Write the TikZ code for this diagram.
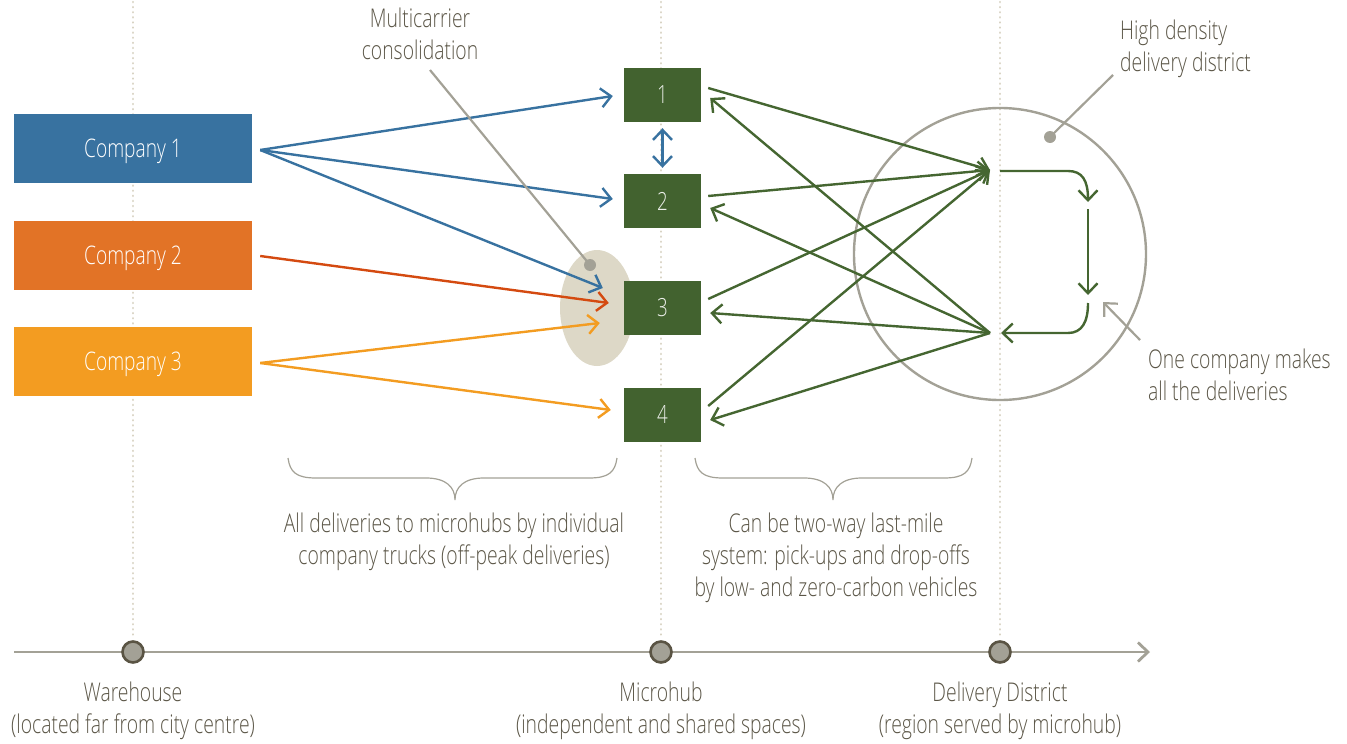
\documentclass[tikz,border=0pt]{standalone}
\usepackage{fontspec}
\setmainfont{Open Sans}[UprightFont={* Light},FakeStretch=0.75]
\usetikzlibrary{arrows.meta,calc}
\definecolor{cblue}{HTML}{3872A0}
\definecolor{corange}{HTML}{E27326}
\definecolor{cline2}{HTML}{D44A10}
\definecolor{cyellow}{HTML}{F39C21}
\definecolor{cgreen}{HTML}{42622F}
\definecolor{cgline}{HTML}{456631}
\definecolor{cgray}{HTML}{A3A196}
\definecolor{ctext}{HTML}{5B5647}
\definecolor{cdot}{HTML}{D8D3C3}
\definecolor{cell}{HTML}{DDD8C7}
\definecolor{cdotborder}{HTML}{5A5444}
\begin{document}
\begin{tikzpicture}[x=1pt,y=-1pt,
  barb/.style={-{Straight Barb[length=10pt,width=19pt]}},
  conn/.style={line width=2.4pt,barb},
  guide/.style={cdot,line width=2.5pt,dash pattern=on 0.1pt off 5pt,line cap=round},
  cbox/.style={minimum width=238pt,minimum height=69pt,inner sep=0pt,text depth=0pt,text=white,font=\fontsize{25.6}{32}\selectfont},
  hbox/.style={fill=cgreen,minimum width=77pt,minimum height=54pt,inner sep=0pt,text=white!90!cgreen,font=\fontsize{25}{30}\selectfont},
  lbl/.style={text=ctext,font=\fontsize{25.8}{32}\selectfont,inner sep=0pt},
  axisdot/.style={circle,fill=cgray,draw=cdotborder,line width=2.6pt,minimum size=21pt,inner sep=0pt},
  leader/.style={cgray,line width=2.2pt},
  brace/.style={cgray,line width=1.2pt}
]
\useasboundingbox (0,0) rectangle (1347,744);
% guides
\draw[guide] (133,2) -- (133,638);
\draw[guide] (661,2) -- (661,638);
\draw[guide] (1000,2) -- (1000,638);
% district circle and ellipse
\draw[cgray,line width=2.4pt] (1000,254) circle[radius=146];
\fill[cell] (597,308) ellipse[x radius=37, y radius=58];
% company boxes
\node[cbox,fill=cblue] (c1) at (133,148.5) {Company 1};
\node[cbox,fill=corange] (c2) at (133,255.5) {Company 2};
\node[cbox,fill=cyellow] (c3) at (133,361.5) {Company 3};
% microhubs
\node[hbox] (h1) at (662.5,95) {1};
\node[hbox] (h2) at (662.5,201) {2};
\node[hbox] (h3) at (662.5,308) {3};
\node[hbox] (h4) at (662.5,414.5) {4};
% company arrows
\draw[conn,cblue] ($(c1.east)+(8,1.5)$) -- ($(h1.west)+(-11,1)$);
\draw[conn,cblue] ($(c1.east)+(8,1.5)$) -- ($(h2.west)+(-11,-2)$);
\draw[conn,cblue] ($(c1.east)+(8,1.5)$) -- ($(h3.west)+(-21,-20)$);
\draw[conn,cline2] ($(c2.east)+(8,0.5)$) -- ($(h3.west)+(-15,-5)$);
\draw[conn,cyellow] ($(c3.east)+(8,1.5)$) -- ($(h3.west)+(-24,15)$);
\draw[conn,cyellow] ($(c3.east)+(8,1.5)$) -- ($(h4.west)+(-13,-4.5)$);
% hub 1-2 double arrow
\draw[line width=2.4pt,cblue,{Straight Barb[length=10pt,width=19pt]}-{Straight Barb[length=10pt,width=19pt]}] ($(h1.south)+(0,6)$) -- ($(h2.north)+(0,-6)$);
% district hub points
\coordinate (T) at (990,170);
\coordinate (B) at (990,333);
\foreach \h/\dy in {h1/-7,h2/-5,h3/-9,h4/-8.5}{
  \draw[conn,cgline] ($(\h.east)+(7,\dy)$) -- (T);
}
\foreach \h/\dy in {h1/3,h2/7,h3/5,h4/5.5}{
  \draw[conn,cgline] (B) -- ($(\h.east)+(9,\dy)$);
}
% loop
\coordinate (l1) at (1000,171);
\coordinate (l2) at (1088,202);
\coordinate (l3) at (1088,209);
\coordinate (l4) at (1088,295);
\coordinate (l5) at (1088,303);
\coordinate (l6) at (1001,333);
\draw[conn,cgline] (l1) -- (1068,171) .. controls (1082,171) and (1088,180) .. (l2);
\draw[conn,cgline] (l3) -- (l4);
\draw[conn,cgline] (l5) .. controls (1088,322) and (1082,333) .. (1068,333) -- (l6);
% annotations
\node[lbl,align=center] (mc) at (420,34) {Multicarrier\\consolidation};
\coordinate (mcd) at (590,265);
\draw[leader] (430,70) -- (mcd);
\fill[cgray] (mcd) circle[radius=6];
\node[lbl,align=left,anchor=west] (hd) at (1120,49) {High density\\delivery district};
\coordinate (hdd) at (1050,137);
\draw[leader] (1113,75) -- (hdd);
\fill[cgray] (hdd) circle[radius=6];
\node[lbl,align=left,anchor=west] (oc) at (1148,375) {One company makes\\all the deliveries};
\coordinate (oct) at (1103,302);
\draw[leader,barb] (1140,340) -- (oct);
% braces
\draw[brace] (288,458) .. controls (290,472) and (296,478) .. (316,478) -- (426,478) .. controls (446,478) and (455,487) .. (455,500)
  .. controls (455,487) and (464,478) .. (484,478) -- (589,478) .. controls (609,478) and (615,472) .. (617,458);
\draw[brace] (695,458) .. controls (697,472) and (703,478) .. (723,478) -- (804,478) .. controls (824,478) and (833,487) .. (833,500)
  .. controls (833,487) and (842,478) .. (862,478) -- (944,478) .. controls (964,478) and (970,472) .. (972,458);
\node[lbl,align=center] (b1) at (454,542) {All deliveries to microhubs by individual\\company trucks (off-peak deliveries)};
\node[lbl,align=center] (b2) at (836,558) {Can be two-way last-mile\\system: pick-ups and drop-offs\\by low- and zero-carbon vehicles};
% axis
\coordinate (ax0) at (14,652);
\coordinate (ax1) at (1150,652);
\draw[cgray,line width=2.8pt,barb] (ax0) -- (ax1);
\node[axisdot] (d1) at (133,652) {};
\node[axisdot] (d2) at (661,652) {};
\node[axisdot] (d3) at (1000,652) {};
\node[lbl,align=center] (t1) at (133,711) {Warehouse\\(located far from city centre)};
\node[lbl,align=center] (t2) at (661,711) {Microhub\\(independent and shared spaces)};
\node[lbl,align=center] (t3) at (1000,711) {Delivery District\\(region served by microhub)};
\end{tikzpicture}
\end{document}
